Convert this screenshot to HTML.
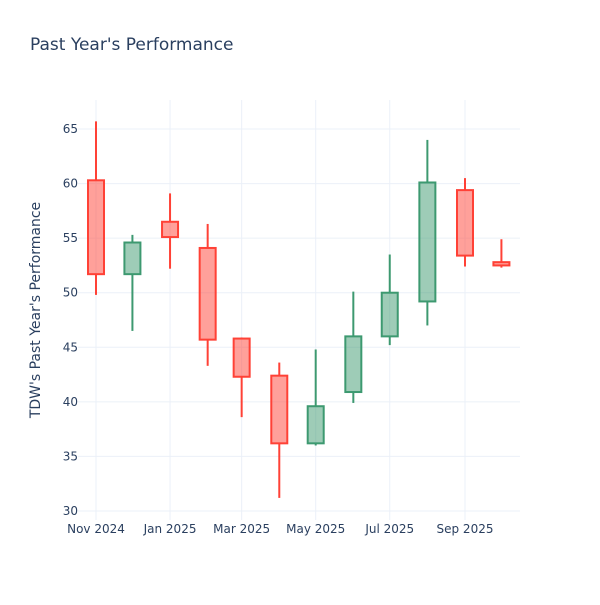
<!DOCTYPE html>
<html><head><meta charset="utf-8"><style>
body{margin:0;background:#fff;font-family:"Liberation Sans","DejaVu Sans",sans-serif;}
svg text{font-family:"DejaVu Sans","Liberation Sans",sans-serif;}
</style></head><body>
<svg id="chart" width="600" height="600" xmlns="http://www.w3.org/2000/svg">
<rect width="600" height="600" fill="#fff"/>
<text x="30" y="50" font-size="17" fill="#2a3f5f">Past Year's Performance</text>
<g id="grid"></g><g id="candles"></g><g id="axes"></g>
<text transform="translate(40,310) rotate(-90)" text-anchor="middle" font-size="14" fill="#2a3f5f">TDW's Past Year's Performance</text>
</svg>
<script>
const dates=["2024-11-01","2024-12-01","2025-01-01","2025-02-01","2025-03-01","2025-04-01","2025-05-01","2025-06-01","2025-07-01","2025-08-01","2025-09-01","2025-10-01"];
const opens=[60.3,51.7,56.5,54.1,45.8,42.4,36.2,40.9,46.0,49.2,59.4,52.8];
const highs=[65.7,55.3,59.1,56.3,45.9,43.6,44.8,50.1,53.5,64.0,60.5,54.9];
const lows=[49.8,46.5,52.2,43.3,38.6,31.2,36.0,39.9,45.2,47.0,52.4,52.3];
const closes=[51.7,54.6,55.1,45.7,42.3,36.2,39.6,46.0,50.0,60.1,53.4,52.5];
const yTicks=[30,35,40,45,50,55,60,65];
const xTickDates=["2024-11-01","2025-01-01","2025-03-01","2025-05-01","2025-07-01","2025-09-01"];
const xTickLabels=["Nov 2024","Jan 2025","Mar 2025","May 2025","Jul 2025","Sep 2025"];
const NS="http://www.w3.org/2000/svg";
const t0=Date.UTC(2024,10,1);
function day(s){const p=s.split("-");return (Date.UTC(+p[0],+p[1]-1,+p[2])-t0)/86400000;}
function x(s){return 96+day(s)*369/304;}
function y(v){return 511-(v-30)*(382/35);}
function el(tag,attrs,parent){const e=document.createElementNS(NS,tag);for(const k in attrs)e.setAttribute(k,attrs[k]);parent.appendChild(e);return e;}
const grid=document.getElementById('grid'),cg=document.getElementById('candles'),ax=document.getElementById('axes');
yTicks.forEach(v=>{
  const l=el('line',{x1:78,x2:520,y1:y(v),y2:y(v),stroke:'#ebf0f8','stroke-width':1},grid);
  
  
  const t=el('text',{x:78,y:y(v)+4,'text-anchor':'end','font-size':12,fill:'#2a3f5f'},ax);
  
  
  t.textContent=v;
});
xTickDates.forEach((d,i)=>{
  const l=el('line',{x1:x(d),x2:x(d),y1:100,y2:520,stroke:'#ebf0f8','stroke-width':1},grid);
  
  
  const t=el('text',{x:x(d),y:533,'text-anchor':'middle','font-size':12,fill:'#2a3f5f'},ax);
  
  
  t.textContent=xTickLabels[i];
});
dates.forEach((d,i)=>{
  const up=closes[i]>=opens[i];
  const col=up?'#3D9970':'#FF4136',fill=up?'rgba(61,153,112,0.5)':'rgba(255,65,54,0.5)';
  const cx=x(d),w=16;
  const g=el('g',{},cg);
  
  
  const top=Math.max(opens[i],closes[i]),bot=Math.min(opens[i],closes[i]);
  el('line',{x1:cx,x2:cx,y1:y(highs[i]),y2:y(top),stroke:col,'stroke-width':2},g);
  el('line',{x1:cx,x2:cx,y1:y(bot),y2:y(lows[i]),stroke:col,'stroke-width':2},g);
  el('rect',{x:cx-w/2,y:y(top),width:w,height:Math.max(1,y(bot)-y(top)),fill:fill,stroke:col,'stroke-width':2},g);
});
</script>
</body></html>
